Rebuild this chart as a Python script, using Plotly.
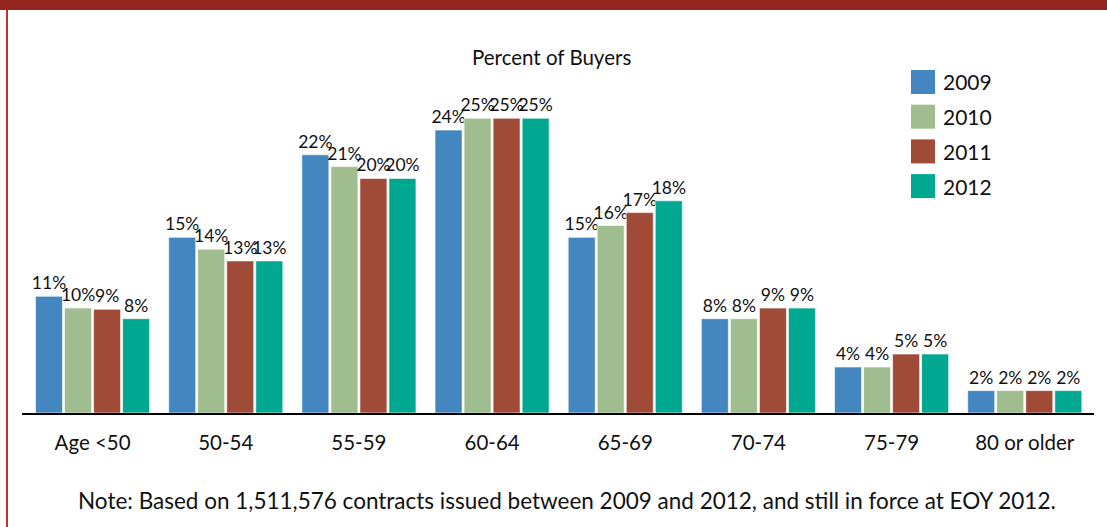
import plotly.graph_objects as go

categories = ["Age <50", "50-54", "55-59", "60-64", "65-69", "70-74", "75-79", "80 or older"]
years = ["2009", "2010", "2011", "2012"]
colors = ["#4486bf", "#9fbd8f", "#a04b38", "#00a891"]

# bar heights (percent) as drawn
v2009 = [9.9, 14.9, 21.9, 24.0, 14.9, 8.0, 3.9, 1.9]
v2010 = [8.9, 13.9, 20.9, 25.0, 15.9, 8.0, 3.9, 1.9]
v2011 = [8.8, 12.9, 19.9, 25.0, 17.0, 8.9, 5.0, 1.9]
v2012 = [8.0, 12.9, 19.9, 25.0, 18.0, 8.9, 5.0, 1.9]
values = [v2009, v2010, v2011, v2012]

# printed labels
l2009 = ["11%", "15%", "22%", "24%", "15%", "8%", "4%", "2%"]
l2010 = ["10%", "14%", "21%", "25%", "16%", "8%", "4%", "2%"]
l2011 = ["9%", "13%", "20%", "25%", "17%", "9%", "5%", "2%"]
l2012 = ["8%", "13%", "20%", "25%", "18%", "9%", "5%", "2%"]
labels = [l2009, l2010, l2011, l2012]

title_text = "Percent of Buyers"
note_text = "Note: Based on 1,511,576 contracts issued between 2009 and 2012, and still in force at EOY 2012."

FONT = "Lato"

fig = go.Figure()
for yr, col, vals, labs in zip(years, colors, values, labels):
    fig.add_trace(go.Bar(
        x=categories, y=vals, name=yr, text=labs,
        textposition="outside", constraintext="none", cliponaxis=False,
        textfont=dict(family=FONT, size=17.5, color="#111"),
        marker=dict(color=col, line=dict(color="rgba(255,255,255,0.6)", width=1)),
        showlegend=False,
    ))

W, H = 1107, 527
ml, mr, mt, mb = 22, 13, 40, 114

fig.update_layout(
    width=W, height=H,
    margin=dict(l=ml, r=mr, t=mt, b=mb),
    paper_bgcolor="white", plot_bgcolor="white",
    barmode="group", bargap=0.128, bargroupgap=0.07,
    font=dict(family=FONT, color="#111"),
    xaxis=dict(range=[-0.53, 7.52], showgrid=False, showline=True, linecolor="black", linewidth=2,
               ticks="outside", ticklen=10, tickcolor="rgba(0,0,0,0)",
               tickfont=dict(family=FONT, size=20.5, color="#111"), fixedrange=True),
    yaxis=dict(range=[0, 31.64], visible=False, fixedrange=True),
)

ph = H - mt - mb
pw = W - ml - mr

# title
fig.add_annotation(text=title_text, xref="paper", yref="paper", x=(551 - ml) / pw, y=1.0 - (57 - mt) / ph,
                   xanchor="center", yanchor="middle", showarrow=False,
                   font=dict(family=FONT, size=20.5, color="#111"))
# note
fig.add_annotation(text=note_text, xref="paper", yref="paper",
                   x=(567 - ml) / pw, y=-(500 - (H - mb)) / ph,
                   xanchor="center", yanchor="middle", showarrow=False,
                   font=dict(family=FONT, size=22.5, color="#111"))

# manual legend
for i, (yr, col) in enumerate(zip(years, colors)):
    top = 70 + i * 34.7
    fig.add_shape(type="rect", xref="paper", yref="paper",
                  x0=(911 - ml) / pw, x1=(935 - ml) / pw,
                  y0=1 - (top + 24 - mt) / ph, y1=1 - (top - mt) / ph,
                  fillcolor=col, line=dict(width=0))
    fig.add_annotation(text=yr, xref="paper", yref="paper",
                       x=(941 - ml) / pw, y=1 - (top + 12 - mt) / ph,
                       xanchor="left", yanchor="middle", showarrow=False,
                       font=dict(family=FONT, size=21, color="#111"))

# frame: top band and left rule
fig.add_shape(type="rect", xref="paper", yref="paper",
              x0=-ml / pw, x1=1 + mr / pw, y0=1 + (mt - 10) / ph, y1=1 + mt / ph,
              fillcolor="#94261f", line=dict(width=0), layer="above")
fig.add_shape(type="line", xref="paper", yref="paper",
              x0=-(ml - 7) / pw, x1=-(ml - 7) / pw, y0=-mb / ph, y1=1 + (mt - 10) / ph,
              line=dict(color="#b3392c", width=2))

fig.write_html("out.html", config={"displayModeBar": False},
               post_script="document.body.style.margin='0';document.body.style.overflow='hidden';")
